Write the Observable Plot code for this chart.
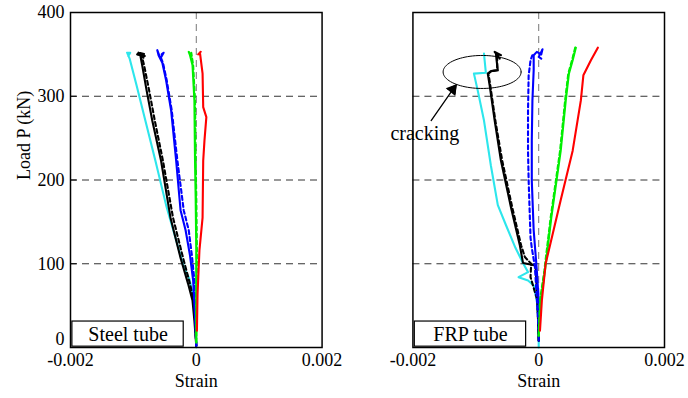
<!DOCTYPE html>
<html>
<head>
<meta charset="utf-8">
<script src="https://cdn.jsdelivr.net/npm/d3@7"></script>
<script src="https://cdn.jsdelivr.net/npm/@observablehq/plot@0.6"></script>
<style>
html,body{margin:0;padding:0;background:#fff;}
#chart{width:688px;height:398px;}
#chart svg, #chart svg text, #chart svg g { font-family: "Liberation Serif", "Times New Roman", serif !important; }
</style>
</head>
<body>
<div id="chart"></div>
<script>
// ---- panels & ticks
const panels = ["Steel tube", "FRP tube"];
const xTicks = [-0.002, 0, 0.002];
const yTicks = [0, 100, 200, 300, 400];
const gridLoads = [100, 200, 300];

// ---- Steel tube series (strain, load kN)
const sCyanX  = [0, -0.000016, -0.00005, -0.00011, -0.00019, -0.00032, -0.00048, -0.00065, -0.00081, -0.00095, -0.00106, -0.0011, -0.00105, -0.00108];
const sCyanY  = [0, 32, 62, 82, 94, 128, 170, 223, 271, 313, 345, 352, 352, 348];
const sBlackX = [0, -0.00003, -0.00006, -0.00013, -0.00025, -0.00041, -0.00056, -0.0007, -0.00079, -0.00086, -0.00089, -0.00094, -0.00082, -0.00092, -0.00084, -0.0009];
const sBlackY = [2, 32, 56, 76, 107, 155, 223, 271, 307, 337, 349, 350, 348, 352, 346, 351];
const sBlackDX = [0, -0.00002, -0.00004, -0.0001, -0.00021, -0.00037, -0.00053, -0.00066, -0.00075, -0.00083, -0.00087, -0.00091, -0.00081];
const sBlackDY = [2, 32, 56, 76, 107, 155, 223, 271, 307, 337, 349, 352, 350];
const sBlueX  = [0, -0.000016, -0.00005, -0.0001, -0.00017, -0.00025, -0.00032, -0.0004, -0.00048, -0.00054, -0.0006, -0.00062, -0.00057, -0.00052, -0.00055];
const sBlueY  = [2, 32, 80, 110, 140, 164, 223, 283, 319, 340, 349, 355, 345, 352, 350];
const sBlueDX = [0, -0.00001, -0.00003, -0.00007, -0.00012, -0.0002, -0.0003, -0.00039, -0.00047, -0.00053, -0.00058];
const sBlueDY = [2, 32, 80, 110, 140, 164, 223, 283, 319, 340, 349];
const sGreenX = [0, 0, -0.00001, -0.00002, -0.00003, -0.00006, -0.0001, -0.00012, -0.00008, -0.0001];
const sGreenY = [6, 116, 180, 223, 295, 337, 349, 353, 347, 351];
const sGreenDX = [0, 0.00001, 0, -0.00001, -0.00002, -0.00005, -0.00008];
const sGreenDY = [6, 116, 180, 223, 295, 337, 352];
const sRedX   = [0.00001, 0.00002, 0.00005, 0.0001, 0.00011, 0.00013, 0.00016, 0.00011, 0.0001, 0.00006, 0.00003, 0.00007];
const sRedY   = [20, 64, 116, 155, 223, 247, 275, 287, 327, 351, 350, 353];

// ---- FRP tube series
const fCyanX  = [0, 0, -0.00003, -0.00008, -0.00017, -0.00032, -0.00017, -0.00025, -0.00037, -0.00052, -0.00065, -0.00076, -0.00087, -0.00097, -0.00103, -0.00084, -0.00086, -0.00087];
const fCyanY  = [0, 32, 56, 74, 80, 84, 90, 101, 119, 146, 170, 217, 271, 307, 327, 328, 343, 351];
const fBlackX = [0, -0.00002, -0.00005, -0.00025, -0.0003, -0.00044, -0.0006, -0.0007, -0.00078, -0.00081, -0.00076, -0.00065, -0.00067, -0.00068, -0.0006, -0.0007, -0.00062];
const fBlackY = [8, 56, 98, 101, 122, 167, 223, 271, 313, 327, 330, 331, 343, 351, 349, 353, 345];
const fBlackDX = [0, -0.00002, -0.00013, -0.00012, -0.00022, -0.00028, -0.00042, -0.00058, -0.00069, -0.00077, -0.0008, -0.00075, -0.00066, -0.00066];
const fBlackDY = [8, 56, 84, 100, 108, 122, 167, 223, 271, 313, 327, 330, 331, 350];
const fBlueX  = [0, 0, -0.00003, -0.00008, -0.00011, -0.00011, -0.0001, -0.00008, -0.00008, -0.00003, 0.00004, 0.00006, 0, 0.00004];
const fBlueY  = [8, 56, 92, 140, 199, 247, 295, 331, 349, 353, 350, 356, 347, 345];
const fBlueDX = [0, -0.00006, -0.00011, -0.00013, -0.00016, -0.00017, -0.00017, -0.00016, -0.00013, -0.0001];
const fBlueDY = [20, 96, 119, 131, 199, 235, 283, 325, 343, 349];
const fGreenX = [0, 0.00003, 0.0001, 0.0002, 0.00035, 0.00043, 0.00048, 0.00054, 0.00059];
const fGreenY = [14, 56, 92, 155, 235, 295, 327, 343, 358];
const fGreenDX = [0, 0.00002, 0.00009, 0.00019, 0.00034, 0.00042, 0.00047, 0.00053, 0.00058];
const fGreenDY = [14, 56, 92, 155, 235, 295, 327, 343, 358];
const fRedX   = [0.00002, 0.00005, 0.00011, 0.00035, 0.00054, 0.00067, 0.00071, 0.00083, 0.00094];
const fRedY   = [20, 56, 100, 176, 235, 295, 325, 343, 358];

// ---- annotations
const crackLabel = ["cracking"];
const crackLabelPos = [-0.00181, 255];
const crackEllipse = [-0.0009, 329, 0.00062, 19.7]; // cx, cy, rx, ry
const crackArrow = [-0.00171, 271, -0.00132, 313];  // x1, y1, x2, y2
const boxX = [-0.00197, -0.0002];
const boxY = [1, 31];

const series = [
  ["Steel tube", sCyanX, sCyanY, "#2de6ec", null],
  ["Steel tube", sBlackDX, sBlackDY, "#000", "4,3"],
  ["Steel tube", sBlackX, sBlackY, "#000", null],
  ["Steel tube", sBlueDX, sBlueDY, "#0000ff", "4,3"],
  ["Steel tube", sBlueX, sBlueY, "#0000ff", null],
  ["Steel tube", sGreenDX, sGreenDY, "#00e600", "4,3"],
  ["Steel tube", sGreenX, sGreenY, "#00f000", null],
  ["Steel tube", sRedX, sRedY, "#ff0000", null],
  ["FRP tube", fCyanX, fCyanY, "#2de6ec", null],
  ["FRP tube", fBlackDX, fBlackDY, "#000", "4,3"],
  ["FRP tube", fBlackX, fBlackY, "#000", null],
  ["FRP tube", fBlueDX, fBlueDY, "#0000ff", "4,3"],
  ["FRP tube", fBlueX, fBlueY, "#0000ff", null],
  ["FRP tube", fGreenDX, fGreenDY, "#00e600", "4,3"],
  ["FRP tube", fGreenX, fGreenY, "#00f000", null],
  ["FRP tube", fRedX, fRedY, "#ff0000", null]
];

const lineMarks = series.map(([panel, xs, ys, color, dash]) =>
  Plot.line(xs.map((x, i) => ({panel, x, y: ys[i]})), {
    x: "x", y: "y", fx: "panel", stroke: color, strokeWidth: 2.1,
    strokeDasharray: dash || undefined, curve: "linear"
  })
);

const ellipsePts = d3.range(0, 361, 4).map(a => ({
  panel: "FRP tube",
  x: crackEllipse[0] + crackEllipse[2] * Math.cos(a * Math.PI / 180),
  y: crackEllipse[1] + crackEllipse[3] * Math.sin(a * Math.PI / 180)
}));

const fmt = d => d === 0 ? "0" : String(d);
const font = "Liberation Serif";

const chart = Plot.plot({
  width: 688, height: 398,
  marginTop: 12, marginBottom: 51, marginLeft: 70, marginRight: 24,
  style: {fontFamily: font, fontSize: "18px", background: "#fff", color: "#000"},
  fx: {domain: panels, paddingInner: 91 / 343, paddingOuter: 0, round: false, axis: null, label: null},
  x: {domain: [-0.002, 0.002], axis: null},
  y: {domain: [0, 400], axis: null},
  marks: [
    Plot.ruleY(gridLoads, {stroke: "#333", strokeDasharray: "7,5", strokeWidth: 1}),
    Plot.ruleX([0], {stroke: "#777", strokeDasharray: "7,5", strokeWidth: 1}),
    ...lineMarks,
    Plot.line(ellipsePts, {x: "x", y: "y", fx: "panel", stroke: "#000", strokeWidth: 1}),
    Plot.arrow([{panel: "FRP tube"}], {
      x1: () => crackArrow[0], y1: () => crackArrow[1], x2: () => crackArrow[2], y2: () => crackArrow[3],
      fx: "panel", stroke: "#000", strokeWidth: 1.3, headLength: 10
    }),
    Plot.dot([{panel: "FRP tube"}], {
      x: () => crackArrow[2], y: () => crackArrow[3], fx: "panel",
      symbol: "triangle", r: 4.5, fill: "#000", rotate: 39, dx: -3, dy: 4
    }),
    Plot.text([{panel: "FRP tube", t: crackLabel[0]}], {
      x: () => crackLabelPos[0], y: () => crackLabelPos[1], text: "t", fx: "panel",
      fontSize: 20, fill: "#000", fontFamily: font
    }),
    Plot.rect(panels.map(p => ({panel: p})), {
      x1: () => boxX[0], x2: () => boxX[1], y1: () => boxY[0], y2: () => boxY[1],
      fx: "panel", fill: "#fff", stroke: "#000", strokeWidth: 1.2
    }),
    Plot.text(panels.map(p => ({panel: p})), {
      x: () => (boxX[0] + boxX[1]) / 2, y: () => (boxY[0] + boxY[1]) / 2,
      text: "panel", fx: "panel", fontSize: 20, fill: "#000", fontFamily: font
    }),
    Plot.frame({stroke: "#000", strokeWidth: 1.5}),
    Plot.tickY(yTicks.map(y => ({panel: "Steel tube", y})), {y: "y", fx: "panel", insetRight: 245, stroke: "#000"}),
    Plot.axisX(xTicks, {tickSize: 0, tickPadding: 6, tickFormat: fmt, fontSize: 18, label: null, fontFamily: font}),
    Plot.axisY(yTicks.slice(1), {tickSize: 0, tickPadding: 6, fontSize: 18, label: null, fontFamily: font}),
    Plot.axisY(yTicks.slice(0, 1), {tickSize: 0, tickPadding: 6, fontSize: 18, label: null, dy: -8, fontFamily: font}),
    Plot.text(panels.map(p => ({panel: p})), {
      fx: "panel", text: () => "Strain", frameAnchor: "bottom", dy: 39, fontSize: 18, fill: "#000", fontFamily: font
    }),
    Plot.text([{panel: "Steel tube"}], {
      fx: "panel", text: () => "Load P (kN)", frameAnchor: "left", rotate: -90, dx: -46, fontSize: 18, fill: "#000", fontFamily: font
    })
  ]
});
document.getElementById("chart").appendChild(chart);
</script>
</body>
</html>
